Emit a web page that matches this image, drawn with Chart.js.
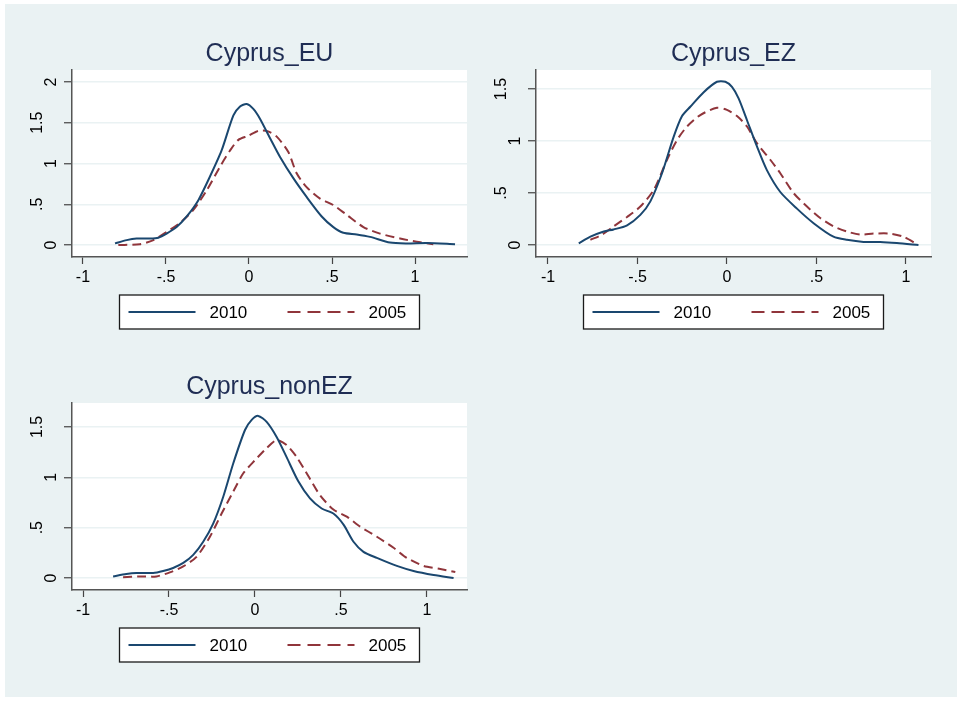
<!DOCTYPE html>
<html lang="en">
<head>
<meta charset="UTF-8">
<title>Cyprus densities 2010 vs 2005</title>
<script src="https://cdn.jsdelivr.net/npm/chart.js"></script>
<style>
    body {
        margin: 0;
        background: #ffffff;
    }

    #bg {
        position: absolute;
        left: 5px;
        top: 4px;
        width: 952px;
        height: 693px;
        background: #eaf2f3;
    }

    canvas {
        position: absolute;
    }
</style>
</head>
<body>

<div id="bg"></div>
<canvas id="chartEU" width="480" height="345" style="left:0px; top:0px;"></canvas>
<canvas id="chartEZ" width="480" height="345" style="left:464px; top:0px;"></canvas>
<canvas id="chartNonEZ" width="480" height="345" style="left:0px; top:333px;"></canvas>

<script>
    // ---- data ----
    var seriesLabels = ['2010', '2005'];

    var xTicks = [-1, -0.5, 0, 0.5, 1];
    var xTickLabels = ['-1', '-.5', '0', '.5', '1'];
    var yTicksEU = [0, 0.5, 1, 1.5, 2];
    var yTicks = [0, 0.5, 1, 1.5];
    var yTickLabels = ['0', '.5', '1', '1.5', '2'];

    // Cyprus_EU
    var euX2010 = [-0.807, -0.737, -0.677, -0.596, -0.546, -0.496, -0.436, -0.375, -0.305, -0.235, -0.165, -0.094, -0.054, -0.014, 0.026, 0.066, 0.127, 0.187, 0.267, 0.347, 0.438, 0.508, 0.568, 0.649, 0.729, 0.849, 0.950, 1.070, 1.241];
    var euY2010 = [0.02, 0.06, 0.08, 0.08, 0.09, 0.14, 0.22, 0.35, 0.55, 0.84, 1.16, 1.59, 1.70, 1.73, 1.67, 1.55, 1.31, 1.08, 0.82, 0.59, 0.35, 0.22, 0.15, 0.13, 0.10, 0.03, 0.02, 0.025, 0.01];
    var euX2005 = [-0.787, -0.657, -0.576, -0.496, -0.416, -0.335, -0.255, -0.175, -0.114, -0.064, -0.004, 0.056, 0.106, 0.167, 0.237, 0.287, 0.347, 0.428, 0.508, 0.588, 0.689, 0.789, 0.910, 1.010, 1.110];
    var euY2005 = [0.0, 0.01, 0.06, 0.16, 0.27, 0.43, 0.67, 0.96, 1.16, 1.29, 1.34, 1.40, 1.40, 1.33, 1.14, 0.88, 0.71, 0.57, 0.49, 0.37, 0.22, 0.14, 0.08, 0.04, 0.01];

    // Cyprus_EZ
    var ezX2010 = [-0.828, -0.763, -0.688, -0.633, -0.558, -0.484, -0.428, -0.363, -0.298, -0.251, -0.205, -0.130, -0.056, -0.009, 0.028, 0.065, 0.112, 0.167, 0.223, 0.298, 0.391, 0.484, 0.595, 0.670, 0.763, 0.856, 0.949, 1.070];
    var ezY2010 = [0.016, 0.08, 0.13, 0.15, 0.19, 0.29, 0.42, 0.69, 1.04, 1.24, 1.33, 1.47, 1.57, 1.57, 1.52, 1.41, 1.20, 0.95, 0.72, 0.51, 0.35, 0.21, 0.08, 0.05, 0.03, 0.03, 0.02, 0.0];
    var ezX2005 = [-0.763, -0.698, -0.633, -0.558, -0.484, -0.409, -0.335, -0.279, -0.223, -0.149, -0.056, 0.0, 0.056, 0.112, 0.167, 0.242, 0.298, 0.372, 0.447, 0.521, 0.595, 0.670, 0.744, 0.819, 0.912, 0.986, 1.060];
    var ezY2005 = [0.05, 0.10, 0.18, 0.27, 0.37, 0.53, 0.82, 1.01, 1.14, 1.25, 1.32, 1.30, 1.24, 1.14, 0.98, 0.82, 0.69, 0.50, 0.37, 0.26, 0.18, 0.13, 0.10, 0.11, 0.11, 0.08, 0.01];

    // Cyprus_nonEZ
    var nonX2010 = [-0.825, -0.748, -0.689, -0.592, -0.534, -0.476, -0.417, -0.359, -0.301, -0.243, -0.184, -0.126, -0.058, -0.019, 0.019, 0.068, 0.126, 0.184, 0.252, 0.320, 0.388, 0.456, 0.515, 0.573, 0.631, 0.709, 0.825, 0.922, 1.039, 1.155];
    var nonY2010 = [0.016, 0.04, 0.05, 0.05, 0.07, 0.10, 0.15, 0.23, 0.36, 0.54, 0.81, 1.14, 1.47, 1.57, 1.61, 1.55, 1.40, 1.20, 0.96, 0.79, 0.69, 0.64, 0.53, 0.36, 0.26, 0.20, 0.12, 0.07, 0.03, 0.0];
    var nonX2005 = [-0.767, -0.670, -0.573, -0.495, -0.417, -0.340, -0.262, -0.194, -0.126, -0.068, 0.0, 0.068, 0.126, 0.184, 0.243, 0.311, 0.379, 0.456, 0.534, 0.612, 0.709, 0.806, 0.883, 0.981, 1.078, 1.165];
    var nonY2005 = [0.007, 0.016, 0.016, 0.056, 0.115, 0.21, 0.41, 0.64, 0.86, 1.04, 1.17, 1.29, 1.37, 1.32, 1.20, 1.01, 0.82, 0.68, 0.61, 0.51, 0.41, 0.30, 0.20, 0.12, 0.09, 0.06];

    Chart.defaults.font.family = '"Liberation Sans", Arial, sans-serif';

    // white plot region behind the lines
    var plotBackground = {
        id: 'plotBackground',
        beforeDraw: function (chart) {
            var a = chart.chartArea;
            var ctx = chart.ctx;
            ctx.save();
            ctx.fillStyle = '#ffffff';
            ctx.fillRect(a.left, a.top, a.right - a.left, a.bottom - a.top);
            ctx.restore();
        }
    };

    // boxed legend under the plot, like Stata's
    var boxLegend = {
        id: 'boxLegend',
        afterDraw: function (chart) {
            var ctx = chart.ctx;
            var a = chart.chartArea;
            var cx = (a.left + a.right) / 2;
            var top = a.bottom + 38;
            var offsets = [-141, 18];
            ctx.save();
            ctx.fillStyle = '#ffffff';
            ctx.fillRect(cx - 150, top, 300, 34);
            ctx.strokeStyle = '#1a1a1a';
            ctx.lineWidth = 1.3;
            ctx.strokeRect(cx - 150, top, 300, 34);
            chart.data.datasets.forEach(function (ds, i) {
                var x0 = cx + offsets[i];
                var y = top + 17;
                ctx.strokeStyle = ds.borderColor;
                ctx.lineWidth = ds.borderWidth;
                ctx.setLineDash(ds.borderDash ? [13, 7] : []);
                ctx.beginPath();
                ctx.moveTo(x0, y);
                ctx.lineTo(x0 + 67, y);
                ctx.stroke();
                ctx.setLineDash([]);
                ctx.fillStyle = '#000000';
                ctx.font = '17px "Liberation Sans", Arial, sans-serif';
                ctx.textAlign = 'left';
                ctx.textBaseline = 'middle';
                ctx.fillText(ds.label, x0 + 81, y + 1);
            });
            ctx.restore();
        }
    };

    function toPoints(xs, ys) {
        return xs.map(function (x, i) { return { x: x, y: ys[i] }; });
    }

    // rotated y labels: longer ones sit further from the axis, as in the original
    function yLabel(v) {
        var t = yTickLabels[yTicksEU.indexOf(v)];
        return t.length > 1 ? [t, ''] : t;
    }

    function makeChart(id, title, x10, y10, x05, y05, xMin, xMax, yMin, yMax, yTickValues) {
        var ctx = document.getElementById(id).getContext('2d');
        return new Chart(ctx, {
            type: 'line',
            data: {
                datasets: [{
                    label: seriesLabels[0],
                    data: toPoints(x10, y10),
                    borderColor: '#1a476f',
                    borderWidth: 2,
                    pointRadius: 0,
                    tension: 0.25,
                    fill: false
                }, {
                    label: seriesLabels[1],
                    data: toPoints(x05, y05),
                    borderColor: '#90353b',
                    borderWidth: 2,
                    borderDash: [9, 5],
                    pointRadius: 0,
                    tension: 0.25,
                    fill: false
                }]
            },
            options: {
                responsive: false,
                animation: false,
                layout: { padding: { left: 0, right: 13, top: 0, bottom: 53 } },
                plugins: {
                    legend: { display: false },
                    tooltip: { enabled: false },
                    title: {
                        display: true,
                        text: title,
                        color: '#1f2d54',
                        fullSize: false,
                        font: { size: 25, weight: 'normal' },
                        padding: { top: 39, bottom: 1 }
                    }
                },
                scales: {
                    x: {
                        type: 'linear',
                        min: xMin,
                        max: xMax,
                        afterBuildTicks: function (s) {
                            s.ticks = xTicks.map(function (v) { return { value: v }; });
                        },
                        afterFit: function (s) { s.height = 35; },
                        grid: { drawOnChartArea: false, tickLength: 7, tickColor: '#444444', tickWidth: 1.2 },
                        border: { color: '#555555', width: 1.5 },
                        ticks: {
                            color: '#000000',
                            padding: 4,
                            maxRotation: 0,
                            autoSkip: false,
                            font: { size: 16 },
                            callback: function (v) { return xTickLabels[xTicks.indexOf(v)]; }
                        }
                    },
                    y: {
                        type: 'linear',
                        min: yMin,
                        max: yMax,
                        afterBuildTicks: function (s) {
                            s.ticks = yTickValues.map(function (v) { return { value: v }; });
                        },
                        afterFit: function (s) { s.width = 72; },
                        grid: { color: '#eaf2f3', lineWidth: 1.5, tickLength: 8, tickColor: '#444444', tickWidth: 1.2 },
                        border: { color: '#555555', width: 1.5 },
                        ticks: {
                            color: '#000000',
                            padding: 1,
                            minRotation: 90,
                            maxRotation: 90,
                            crossAlign: 'center',
                            autoSkip: false,
                            font: { size: 16, lineHeight: 1.8 },
                            callback: yLabel
                        }
                    }
                }
            },
            plugins: [plotBackground, boxLegend]
        });
    }

    makeChart('chartEU', 'Cyprus_EU', euX2010, euY2010, euX2005, euY2005, -1.066, 1.313, -0.147, 2.147, yTicksEU);
    makeChart('chartEZ', 'Cyprus_EZ', ezX2010, ezY2010, ezX2005, ezY2005, -1.067, 1.14, -0.115, 1.683, yTicks);
    makeChart('chartNonEZ', 'Cyprus_nonEZ', nonX2010, nonY2010, nonX2005, nonY2005, -1.064, 1.233, -0.119, 1.738, yTicks);
</script>

</body>
</html>
